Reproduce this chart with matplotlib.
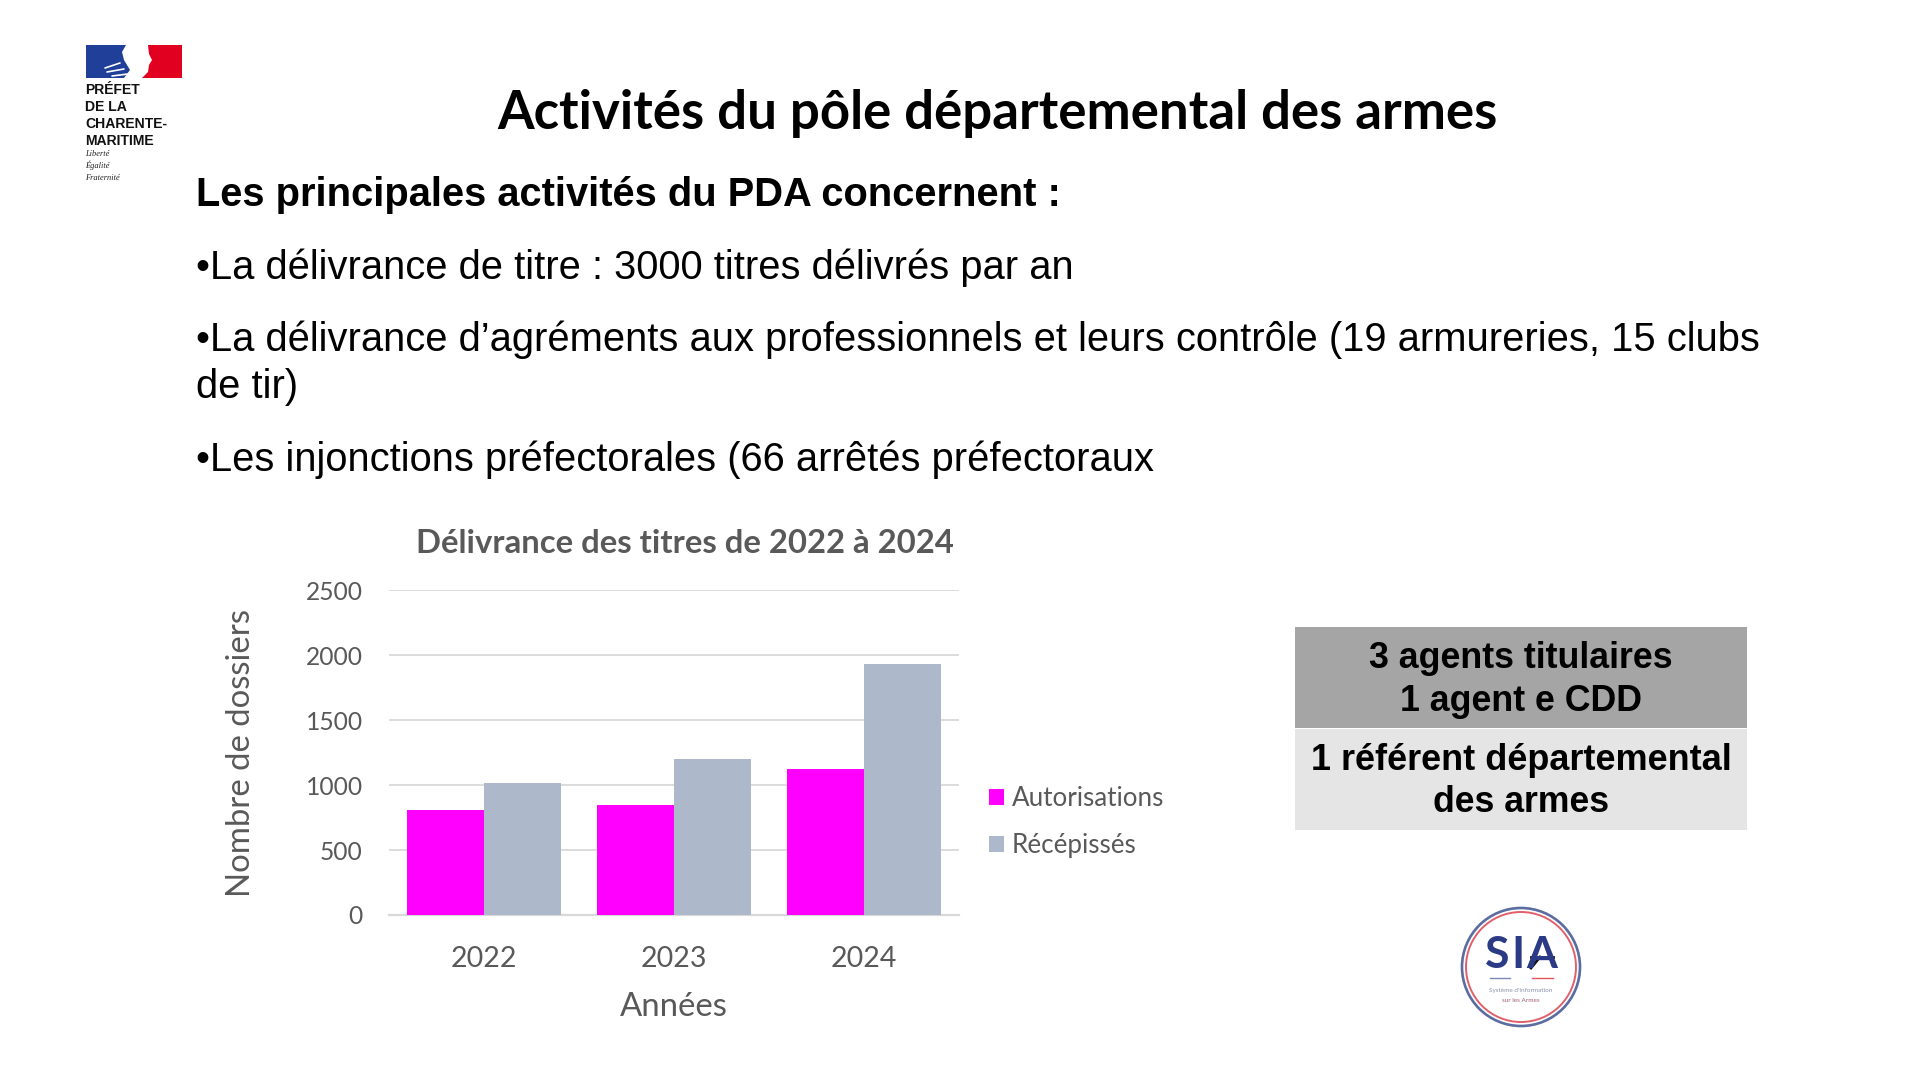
import matplotlib
matplotlib.use("Agg")
import matplotlib.pyplot as plt
from matplotlib.patches import Rectangle, Polygon, Circle

# ---- data ----
years = ["2022", "2023", "2024"]
autorisations = [806, 850, 1127]
recepisses = [1020, 1198, 1929]
y_ticks = [0, 500, 1000, 1500, 2000, 2500]

slide_title = "Activités du pôle départemental des armes"
heading = "Les principales activités du PDA concernent :"
bullets = [
    ("•La délivrance de titre : 3000 titres délivrés par an", 279, 876),
    ("•La délivrance d’agréments aux professionnels et leurs contrôle (19 armureries, 15 clubs", 351, 1563),
    ("de tir)", 398.5, 102),
    ("•Les injonctions préfectorales (66 arrêtés préfectoraux", 471, 957),
]
box_top = [("3 agents titulaires", 668, 304), ("1 agent e CDD", 711, 242)]
box_bottom = [("1 référent départemental", 770, 420), ("des armes", 812.5, 176)]

W, H = 1920, 1080
fig = plt.figure(figsize=(W / 100, H / 100), dpi=100, facecolor="white")
bg = fig.add_axes([0, 0, 1, 1], zorder=0)
bg.set_xlim(0, W)
bg.set_ylim(H, 0)
bg.axis("off")
renderer = fig.canvas.get_renderer()


def fit(t, width):
    """Scale a text so that its rendered width equals the measured one."""
    e = t.get_window_extent(renderer)
    size = max(e.width, e.height) if t.get_rotation() else e.width
    t.set_fontsize(t.get_fontsize() * width / size)
    return t


ARIAL = "Liberation Sans"
CAL = "Lato"
GREY = "#595959"

# slide text
fit(bg.text(997.5, 128.5, slide_title, family=CAL, weight="bold", size=34,
            ha="center", va="baseline", color="black"), 1000)
fit(bg.text(196, 206, heading, family=ARIAL, weight="bold", size=28,
            ha="left", va="baseline", color="black"), 866)
for txt, yb, wd in bullets:
    fit(bg.text(196, yb, txt, family=ARIAL, size=27, ha="left", va="baseline", color="black"), wd)

# flag logo
bg.add_patch(Rectangle((86, 45), 96, 33, fc="#1F3F98", ec="none"))
bg.add_patch(Rectangle((142, 45), 40, 33, fc="#E1001F", ec="none"))
bg.add_patch(Polygon([(126, 45), (148, 45), (149, 54), (152, 60), (149, 65), (148, 72),
                      (142, 78), (124, 78), (130, 70), (124, 60), (122, 52)],
                     fc="white", ec="none"))
for x0, y0, x1, y1 in [(105, 68, 120, 63), (107, 72, 124, 69), (112, 76, 128, 74)]:
    bg.plot([x0, x1], [y0, y1], color="white", lw=1.2, solid_capstyle="round")
for i, line in enumerate(["PRÉFET", "DE LA", "CHARENTE-", "MARITIME"]):
    bg.text(85, 94 + i * 17, line, family=ARIAL, weight="bold", size=10.1,
            ha="left", va="baseline", color="#111111")
for i, line in enumerate(["Liberté", "Égalité", "Fraternité"]):
    bg.text(85, 156 + i * 12, line, family="Liberation Serif", style="italic", size=6,
            ha="left", va="baseline", color="#222222")

# staff boxes
bg.add_patch(Rectangle((1295, 627), 452, 101, fc="#A5A5A5", ec="none"))
bg.add_patch(Rectangle((1295, 729), 452, 101, fc="#E5E5E5", ec="none"))
for txt, yb, wd in box_top + box_bottom:
    fit(bg.text(1521, yb, txt, family=ARIAL, weight="bold", size=27,
                ha="center", va="baseline", color="black"), wd)

# SIA badge
bg.add_patch(Circle((1521, 967), 59, fc="white", ec="#5B6CA0", lw=1.9))
bg.add_patch(Circle((1521, 967), 55, fc="none", ec="#E0606A", lw=1.4))
for letter, lx in zip("SIA", (1497, 1518, 1542)):
    bg.text(lx, 968, letter, family="Lato", weight="bold",
            size=32, color="#2B3A85", ha="center", va="baseline")
bg.plot([1531, 1553], [957, 957], color="#111111", lw=2)
bg.plot([1531, 1540], [968, 957], color="#111111", lw=2)
bg.plot([1490, 1510], [978, 978], color="#7F88B5", lw=1)
bg.plot([1532, 1553], [978, 978], color="#E0555F", lw=1)
bg.text(1521, 992, "Système d'Information", family="Lato", size=4.6, color="#8A8FA8",
        ha="center", va="baseline")
bg.text(1521, 1002, "sur les Armes", family="Lato", size=4.6, color="#A06070",
        ha="center", va="baseline")

# chart
ax = fig.add_axes([389 / W, 1 - 915 / H, 570 / W, 324.7 / H], zorder=1)
ax.patch.set_alpha(0)
positions = range(len(years))
bw = 0.405
ax.bar([p - bw / 2 for p in positions], autorisations, bw, color="#FF00FF", label="Autorisations", zorder=3)
ax.bar([p + bw / 2 for p in positions], recepisses, bw, color="#ADB9CA", label="Récépissés", zorder=3)
ax.set_xlim(-0.5, 2.5)
ax.set_ylim(0, 2500)
ax.set_xticks(list(positions), years)
ax.set_yticks(y_ticks)
ax.grid(axis="y", color="#D9D9D9", lw=1.3, zorder=0)
ax.set_axisbelow(True)
for s in ["top", "right", "left"]:
    ax.spines[s].set_visible(False)
ax.spines["bottom"].set_color("#D9D9D9")
ax.spines["bottom"].set_linewidth(1.6)
ax.tick_params(axis="both", length=0)
ax.tick_params(axis="y", pad=19, labelsize=17.7, labelcolor=GREY)
ax.tick_params(axis="x", pad=22, labelsize=20.5, labelcolor=GREY)
for lab in ax.get_xticklabels() + ax.get_yticklabels():
    lab.set_family(CAL)

title = ax.set_title("Délivrance des titres de 2022 à 2024", x=0.519, y=1.09,
                     family=CAL, weight="bold", size=22, color=GREY, va="baseline")
fit(title, 538)
yl = ax.set_ylabel("Nombre de dossiers", family=CAL, size=24, color=GREY, ha="center", va="center")
ax.yaxis.set_label_coords(-0.26, 0.5)
fit(yl, 288)
xl = ax.set_xlabel("Années", family=CAL, size=23, color=GREY, ha="center", va="center")
ax.xaxis.set_label_coords(0.5, -0.282)
fit(xl, 108)

leg = ax.legend(loc="upper left", bbox_to_anchor=((989 - 389) / 570, (915 - 786.5) / 324.7),
                frameon=False, prop={"family": CAL, "size": 18.7},
                handlelength=0.58, handleheight=0.58, handletextpad=0.3,
                labelspacing=0.82, borderpad=0, borderaxespad=0, labelcolor=GREY)

fig.savefig("out.png", dpi=100, facecolor="white")
